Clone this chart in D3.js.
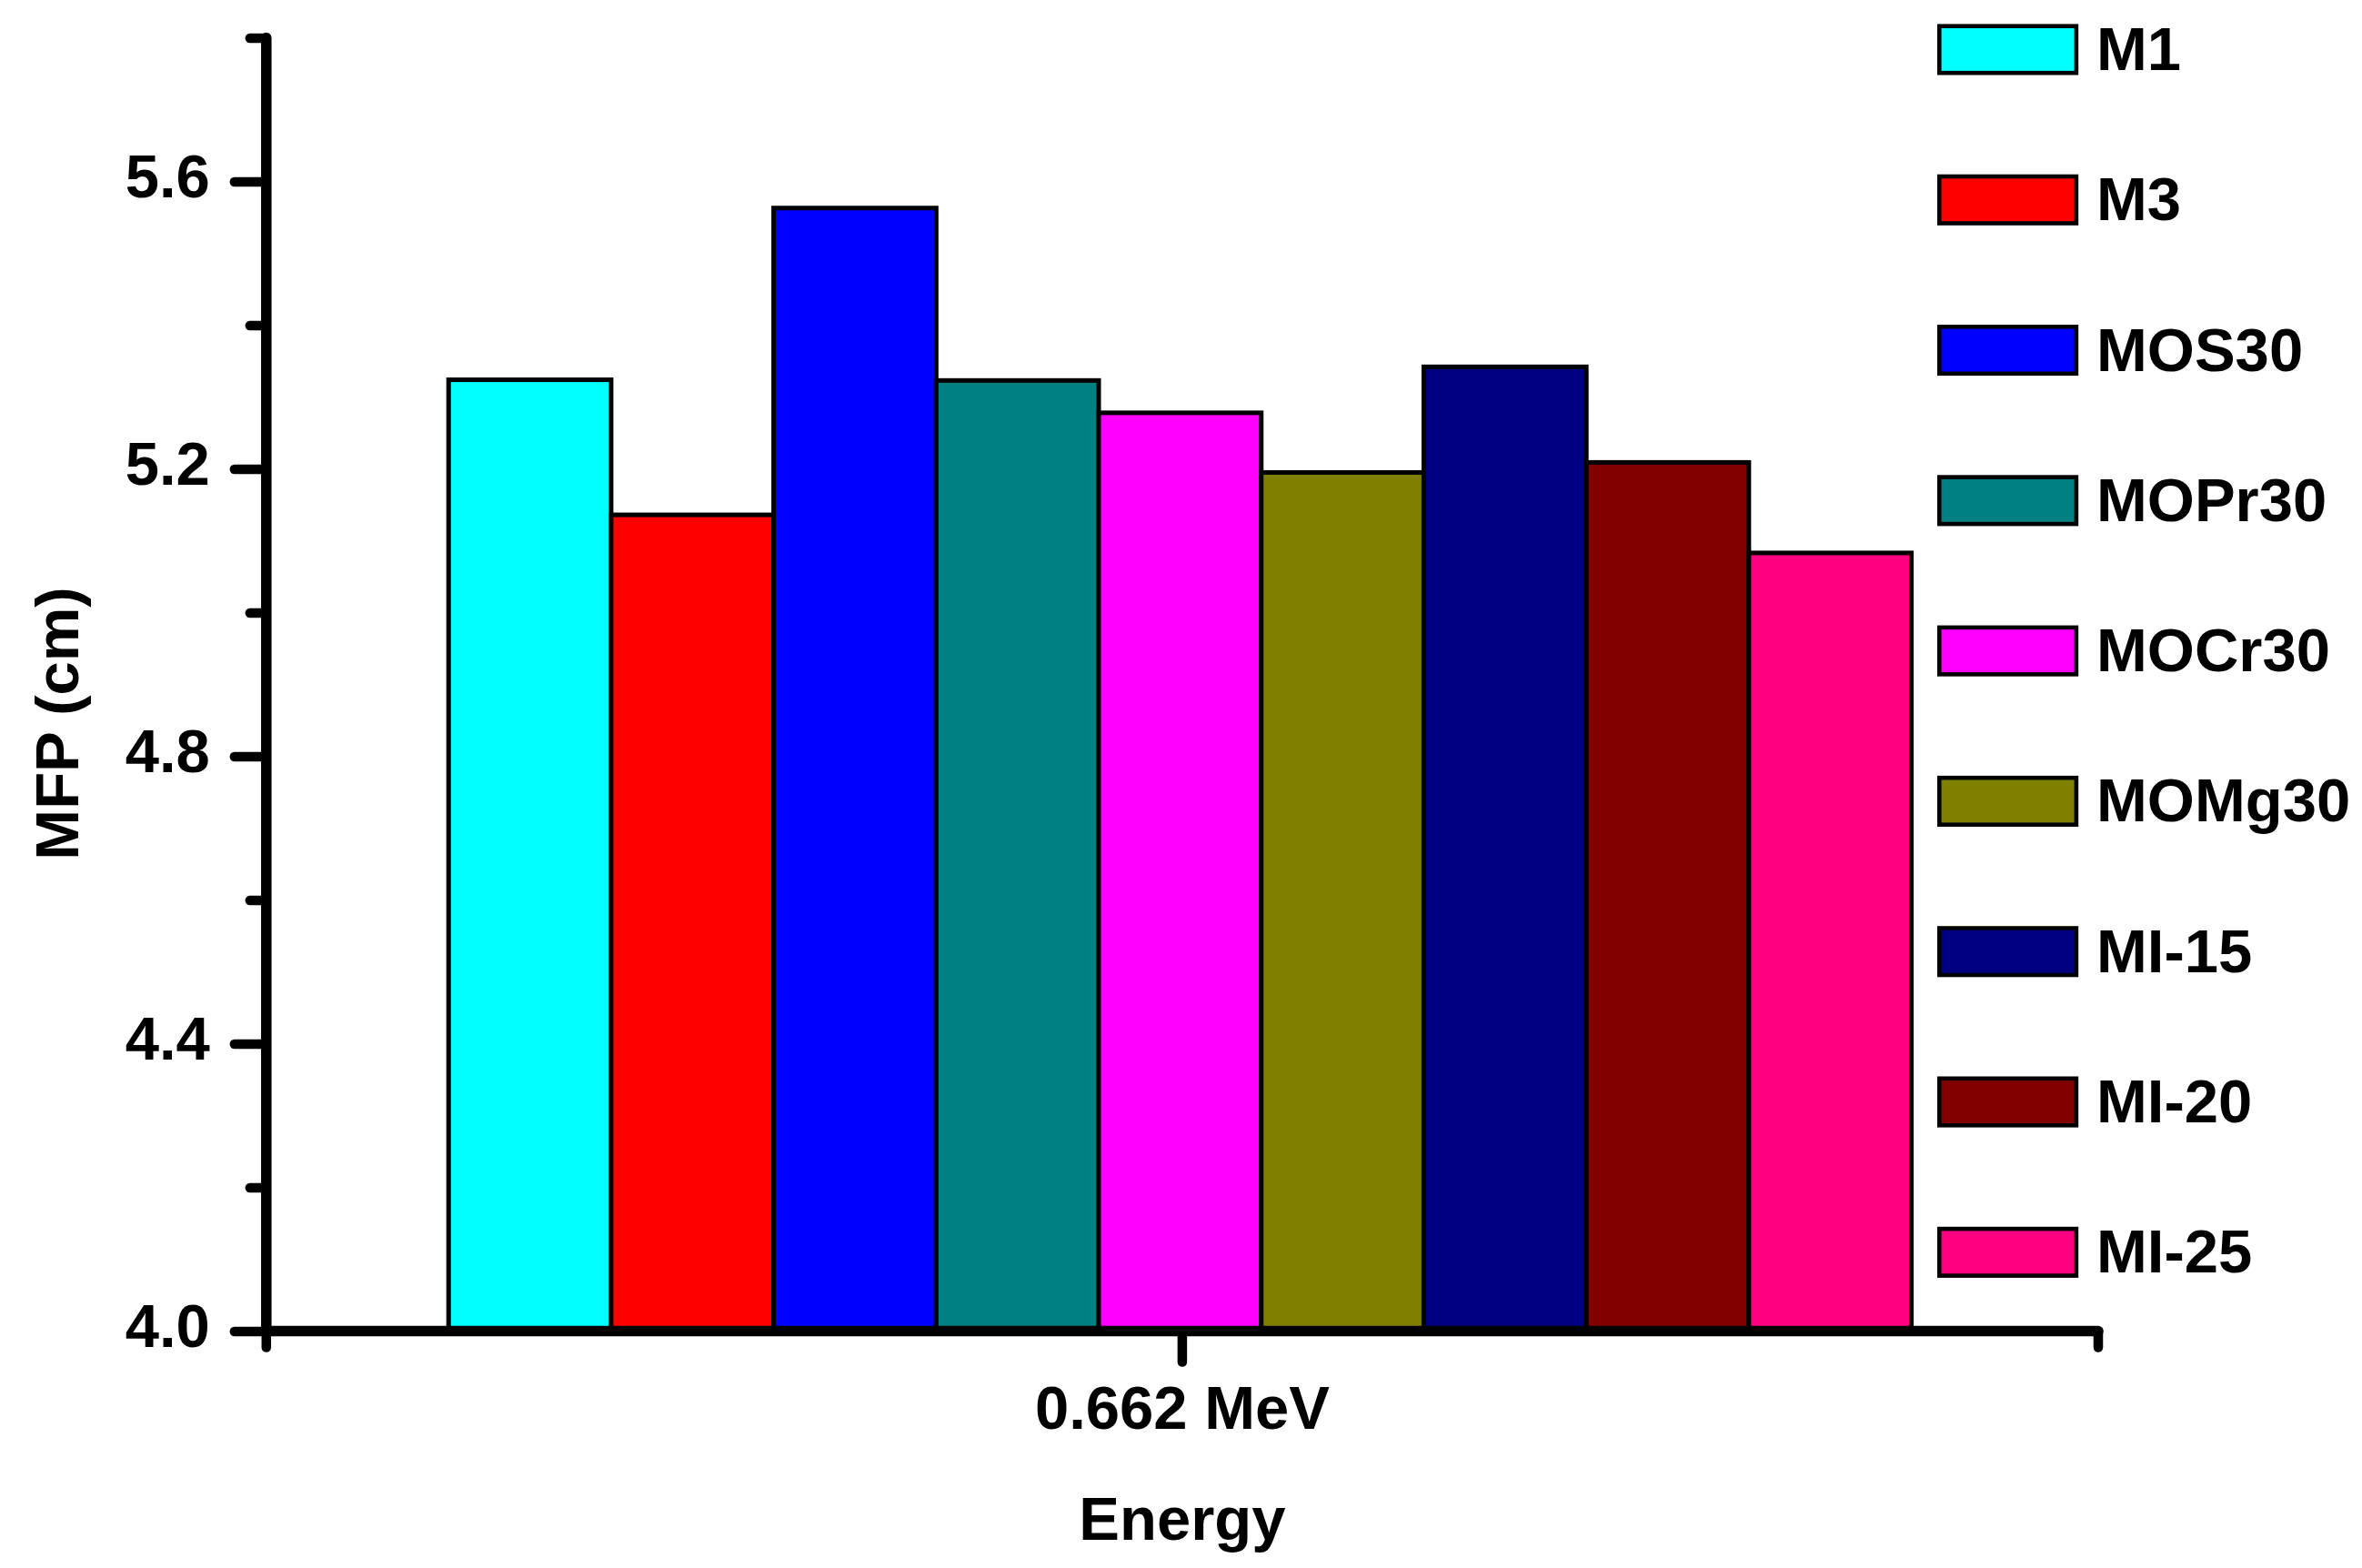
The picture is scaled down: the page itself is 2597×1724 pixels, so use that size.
<!DOCTYPE html>
<html>
<head>
<meta charset="utf-8">
<script src="https://cdn.jsdelivr.net/npm/d3@7"></script>
<style>
  html, body { margin: 0; padding: 0; background: #fff; }
  svg { display: block; }
  text { font-family: "Liberation Sans", Arial, sans-serif; font-weight: bold; fill: #000; }
</style>
</head>
<body>
<script>
// ---- data ----
const categories = ["0.662 MeV"];
const seriesNames = ["M1", "M3", "MOS30", "MOPr30", "MOCr30", "MOMg30", "MI-15", "MI-20", "MI-25"];
const seriesValues = [5.324, 5.136, 5.563, 5.323, 5.278, 5.195, 5.342, 5.209, 5.083];
const seriesColors = ["#00FFFF", "#FF0000", "#0000FF", "#008080", "#FF00FF", "#808000", "#000080", "#800000", "#FF0080"];
const yMajorTicks = [4.0, 4.4, 4.8, 5.2, 5.6];
const yMinorTicks = [4.2, 4.6, 5.0, 5.4, 5.8];
const yDomain = [4.0, 5.8];
const xTitle = "Energy";
const yTitle = "MFP (cm)";

(function () {
// ---- layout ----
const W = 2597, H = 1724;
const FS = 67;
const plotL = 292.8, plotR = 2307, plotT = 41.5, plotB = 1463.5;
const axisW = 11.5, tickW = 10.5;

const svg = d3.select("body").append("svg")
  .attr("width", W).attr("height", H)
  .attr("viewBox", `0 0 ${W} ${H}`);

const x = d3.scaleBand().domain(categories).range([plotL, plotR]).paddingInner(0).paddingOuter(0);
const xs = d3.scaleBand().domain(seriesNames)
  .range([x.bandwidth() * 0.0995, x.bandwidth() * 0.898]).paddingInner(0).paddingOuter(0);
const y = d3.scaleLinear().domain(yDomain).range([plotB, plotT]);
const color = d3.scaleOrdinal().domain(seriesNames).range(seriesColors);

// ---- bars ----
const rows = seriesNames.map((s, i) => ({ cat: categories[0], name: s, value: seriesValues[i] }));
svg.append("g").selectAll("rect").data(rows).join("rect")
  .attr("x", d => x(d.cat) + xs(d.name))
  .attr("y", d => y(d.value))
  .attr("width", xs.bandwidth())
  .attr("height", d => y(yDomain[0]) - y(d.value))
  .attr("fill", d => color(d.name))
  .attr("stroke", "#000")
  .attr("stroke-width", 5);

// ---- y axis ----
const yAxisG = svg.append("g").attr("transform", `translate(${plotL},0)`)
  .call(d3.axisLeft(y).tickValues(yMajorTicks).tickFormat(d3.format(".1f"))
    .tickSizeInner(35).tickSizeOuter(0).tickPadding(27));
yAxisG.select(".domain").remove();
yAxisG.selectAll(".tick line").attr("stroke", "#000").attr("stroke-width", tickW).attr("stroke-linecap", "round");
yAxisG.selectAll(".tick text").attr("font-size", FS).attr("dy", "0.26em")
  .style("font-family", '"Liberation Sans", Arial, sans-serif').style("font-weight", "bold");

const yMinorG = svg.append("g").attr("transform", `translate(${plotL},0)`)
  .call(d3.axisLeft(y).tickValues(yMinorTicks).tickFormat("").tickSizeInner(18).tickSizeOuter(0));
yMinorG.select(".domain").remove();
yMinorG.selectAll(".tick line").attr("stroke", "#000").attr("stroke-width", tickW).attr("stroke-linecap", "round");

// ---- x axis ----
const xAxisG = svg.append("g").attr("transform", `translate(0,${plotB})`)
  .call(d3.axisBottom(x).tickSizeInner(34).tickSizeOuter(0).tickPadding(26));
xAxisG.select(".domain").remove();
xAxisG.selectAll(".tick line").attr("stroke", "#000").attr("stroke-width", tickW).attr("stroke-linecap", "round");
xAxisG.selectAll(".tick text").attr("font-size", FS)
  .style("font-family", '"Liberation Sans", Arial, sans-serif').style("font-weight", "bold");

// minor ticks at band edges
const xEdges = [x.range()[0], x.range()[1]];
svg.append("g").selectAll("line").data(xEdges).join("line")
  .attr("x1", d => d).attr("x2", d => d)
  .attr("y1", plotB).attr("y2", plotB + 18)
  .attr("stroke", "#000").attr("stroke-width", tickW).attr("stroke-linecap", "round");

// axis lines
svg.append("line").attr("x1", plotL).attr("x2", plotL).attr("y1", y(yDomain[1])).attr("y2", y(yDomain[0]))
  .attr("stroke", "#000").attr("stroke-width", axisW).attr("stroke-linecap", "round");
svg.append("line").attr("x1", x.range()[0]).attr("x2", x.range()[1]).attr("y1", plotB).attr("y2", plotB)
  .attr("stroke", "#000").attr("stroke-width", axisW).attr("stroke-linecap", "round");

// ---- titles ----
svg.append("text")
  .attr("x", (x.range()[0] + x.range()[1]) / 2).attr("y", 1693)
  .attr("text-anchor", "middle").attr("font-size", FS).text(xTitle);
svg.append("text")
  .attr("transform", `translate(86,${(y(4.0) + y(5.8)) / 2 + 43}) rotate(-90)`)
  .attr("text-anchor", "middle").attr("font-size", FS).text(yTitle);

// ---- legend ----
const legTop = 26.4, legStep = 165.3;
const leg = svg.append("g").selectAll("g").data(seriesNames).join("g")
  .attr("transform", (d, i) => `translate(2130,${legTop + i * legStep})`);
leg.append("rect")
  .attr("x", 2.3).attr("y", 2.3).attr("width", 150.6).attr("height", 51.5)
  .attr("fill", d => color(d)).attr("stroke", "#000").attr("stroke-width", 4.6);
leg.append("text")
  .attr("x", 175).attr("y", 28 + 22.5)
  .attr("font-size", FS).text(d => d);
})();
</script>
</body>
</html>
